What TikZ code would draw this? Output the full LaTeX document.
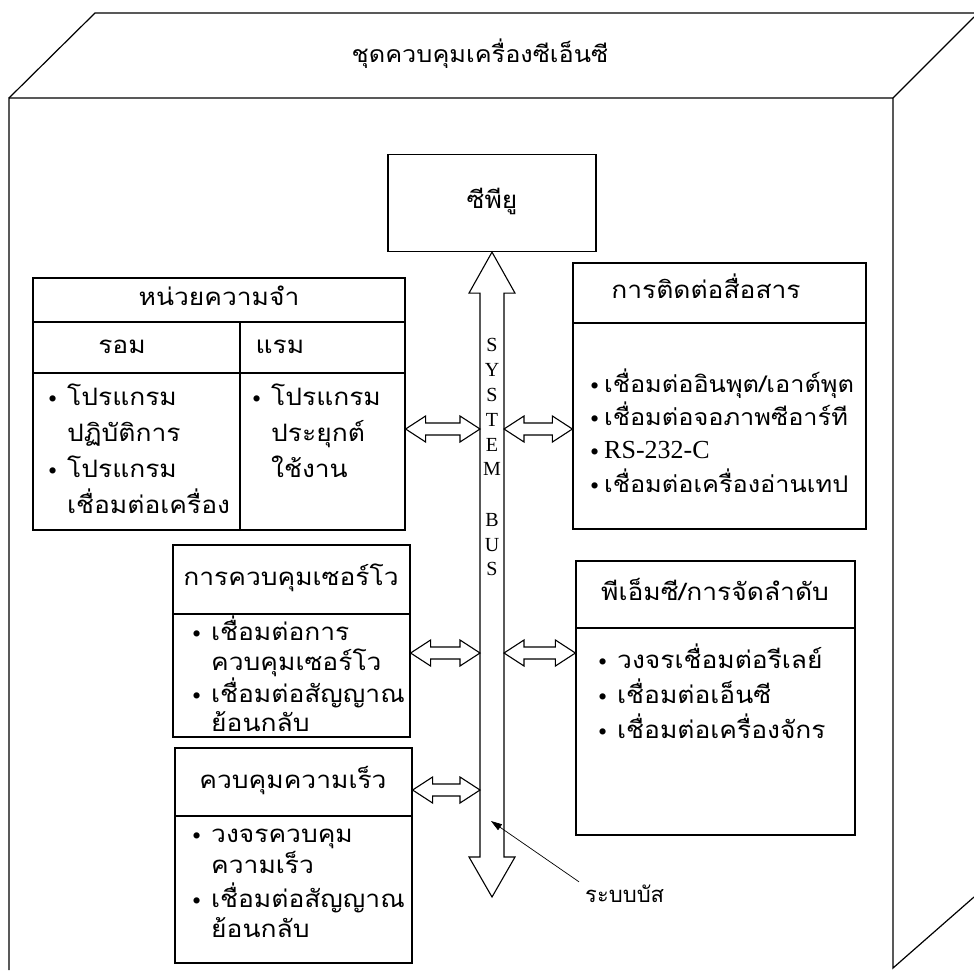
\documentclass[tikz,border=0pt]{standalone}
\usepackage{fontspec}
\setmainfont{Liberation Serif}
\newfontfamily\thai[Script=Thai,FakeStretch=1.1]{Loma}
\newfontfamily\thaiplain[Script=Thai]{Loma}
\usetikzlibrary{calc,arrows.meta}
\newcommand{\dotmark}{\raisebox{-2pt}{\rmfamily\fontsize{26}{26}\selectfont\textbullet}}
\newcommand{\bul}{\makebox[19pt][l]{\dotmark}}
\newcommand{\tbul}{\makebox[14pt][l]{\dotmark}}
\newcommand{\ind}{\hspace*{19pt}}
\newcommand{\harrow}[2]{%
  \draw[blockarrow] let \p1=(#1), \p2=(#2) in
   (\p1) -- (\x1+20pt,\y1+13pt) -- (\x1+20pt,\y1+6pt) -- (\x2-20pt,\y1+6pt)
   -- (\x2-20pt,\y1+13pt) -- (\p2) -- (\x2-20pt,\y1-13pt) -- (\x2-20pt,\y1-6pt)
   -- (\x1+20pt,\y1-6pt) -- (\x1+20pt,\y1-13pt) -- cycle;}
\begin{document}
\begin{tikzpicture}[x=1pt,y=-1pt,
  edge/.style={draw, line width=1.2pt},
  box/.style={draw, line width=1.2pt, inner sep=0pt},
  th/.style={font=\thai\fontsize{24}{28}\selectfont, inner sep=0pt, text height=17pt, text depth=7pt},
  ln/.style={th, anchor=west},
  cln/.style={ln, font=\thai\fontsize{23}{27}\selectfont},
  busletter/.style={font=\fontsize{20}{22}\selectfont, inner sep=0pt},
  blockarrow/.style={draw, line width=1.1pt, fill=white}]
\useasboundingbox (0,0) rectangle (974,970);
% outer cabinet
\coordinate (fl) at (9,970);
\coordinate (ftl) at (9,98);
\coordinate (ftr) at (893,98);
\coordinate (fbr) at (893,968);
\coordinate (btl) at (95,13);
\coordinate (btr) at (974,13);
\coordinate (rtr) at (974,17);
\coordinate (rbr) at (974,897);
\draw[edge] (fl) -- (ftl) -- (ftr) -- (fbr) -- (rbr);
\draw[edge] (ftl) -- (btl) -- (btr);
\draw[edge] (ftr) -- (rtr);
\node[th, font=\thai\fontsize{23}{27}\selectfont] (title) at (480,57) {ชุดควบคุมเครื่องซีเอ็นซี};
% CPU
\node[box, minimum width=208pt, minimum height=97pt] (cpu) at (492,203) {};
\node[th] (cputxt) at (cpu.center) {ซีพียู};
% memory
\node[box, minimum width=372pt, minimum height=252pt] (mem) at (219,404) {};
\coordinate (m1) at (0,322);
\coordinate (m2) at (0,373);
\coordinate (mc) at (240,322);
\draw[edge] (mem.west |- m1) -- (mem.east |- m1);
\draw[edge] (mem.west |- m2) -- (mem.east |- m2);
\draw[edge] (mc) -- (mc |- mem.south);
\node[th] (memh) at (219,300) {หน่วยความจำ};
\node[th] (rom) at (122,348) {รอม};
\node[th] (ram) at (280,348) {แรม};
\node[ln] (r1) at (48,400) {\bul โปรแกรม};
\node[ln] (r2) at (48,436) {\ind ปฏิบัติการ};
\node[ln] (r3) at (48,472) {\bul โปรแกรม};
\node[ln] (r4) at (48,508) {\ind เชื่อมต่อเครื่อง};
\node[ln] (a1) at (252,400) {\bul โปรแกรม};
\node[ln] (a2) at (252,436) {\ind ประยุกต์};
\node[ln] (a3) at (252,472) {\ind ใช้งาน};
% communication
\node[box, minimum width=293pt, minimum height=266pt] (com) at (719.5,396) {};
\coordinate (c1) at (0,323);
\draw[edge] (com.west |- c1) -- (com.east |- c1);
\node[th] (comh) at (706,293) {การติดต่อสื่อสาร};
\node[cln] (c1t) at (590,387) {\tbul เชื่อมต่ออินพุต/เอาต์พุต};
\node[cln] (c2t) at (590,420) {\tbul เชื่อมต่อจอภาพซีอาร์ที};
\node[cln] (c3t) at (590,453) {\tbul {\rmfamily\fontsize{26}{30}\selectfont RS-232-C}};
\node[cln] (c4t) at (590,487) {\tbul เชื่อมต่อเครื่องอ่านเทป};
% servo
\node[box, minimum width=237pt, minimum height=192pt] (srv) at (291.5,641) {};
\coordinate (s1) at (0,614);
\draw[edge] (srv.west |- s1) -- (srv.east |- s1);
\node[th] (srvh) at (291,580) {การควบคุมเซอร์โว};
\node[ln] (s1t) at (192,635) {\bul เชื่อมต่อการ};
\node[ln] (s2t) at (192,665) {\ind ควบคุมเซอร์โว};
\node[ln] (s3t) at (192,697) {\bul เชื่อมต่อสัญญาณ};
\node[ln] (s4t) at (192,726) {\ind ย้อนกลับ};
% PMC
\node[box, minimum width=279pt, minimum height=274pt] (pmc) at (715.5,698) {};
\coordinate (p1) at (0,628);
\draw[edge] (pmc.west |- p1) -- (pmc.east |- p1);
\node[th] (pmch) at (715,595) {พีเอ็มซี/การจัดลำดับ};
\node[ln] (p1t) at (598,663) {\bul วงจรเชื่อมต่อรีเลย์};
\node[ln] (p2t) at (598,698) {\bul เชื่อมต่อเอ็นซี};
\node[ln] (p3t) at (598,733) {\bul เชื่อมต่อเครื่องจักร};
% speed
\node[box, minimum width=237pt, minimum height=215pt] (spd) at (293.5,855.5) {};
\coordinate (v1) at (0,816);
\draw[edge] (spd.west |- v1) -- (spd.east |- v1);
\node[th] (spdh) at (293,783) {ควบคุมความเร็ว};
\node[ln] (v1t) at (192,837) {\bul วงจรควบคุม};
\node[ln] (v2t) at (192,868) {\ind ความเร็ว};
\node[ln] (v3t) at (192,902) {\bul เชื่อมต่อสัญญาณ};
\node[ln] (v4t) at (192,932) {\ind ย้อนกลับ};
% system bus (block double arrow)
\coordinate (bustip) at (cpu.south);
\coordinate (busend) at (492,897);
\draw[blockarrow] let \p1=(bustip), \p2=(busend) in
  (\p1) -- (\x1-23pt,\y1-41pt) -- (\x1-12pt,\y1-41pt) -- (\x1-12pt,\y2+40pt)
  -- (\x2-23pt,\y2+40pt) -- (\p2) -- (\x2+23pt,\y2+40pt) -- (\x1+12pt,\y2+40pt)
  -- (\x1+12pt,\y1-41pt) -- (\x1+23pt,\y1-41pt) -- cycle;
\coordinate (bl) at (480,0);
\coordinate (br) at (504,0);
\foreach \L/\Y [count=\i] in {S/345,Y/370,S/395,T/420,E/445,M/469,B/520,U/545,S/569}
  \node[busletter] (bus\i) at (492,\Y) {\L};
% horizontal block arrows
\coordinate (y1) at (0,429);
\coordinate (y2) at (0,653);
\coordinate (y3) at (0,790);
\harrow{mem.east |- y1}{bl |- y1}
\harrow{br |- y1}{com.west |- y1}
\harrow{srv.east |- y2}{bl |- y2}
\harrow{br |- y2}{pmc.west |- y2}
\harrow{spd.east |- y3}{bl |- y3}
% bus label
\node[th, font=\thaiplain\fontsize{22}{26}\selectfont, anchor=west] (buslbl) at (585,897) {ระบบบัส};
\coordinate (buspt) at (491,821);
\draw[line width=0.7pt, -{Triangle[length=11pt,width=7pt]}] (buslbl.north west) ++(-6pt,3pt) -- (buspt);
\end{tikzpicture}
\end{document}
